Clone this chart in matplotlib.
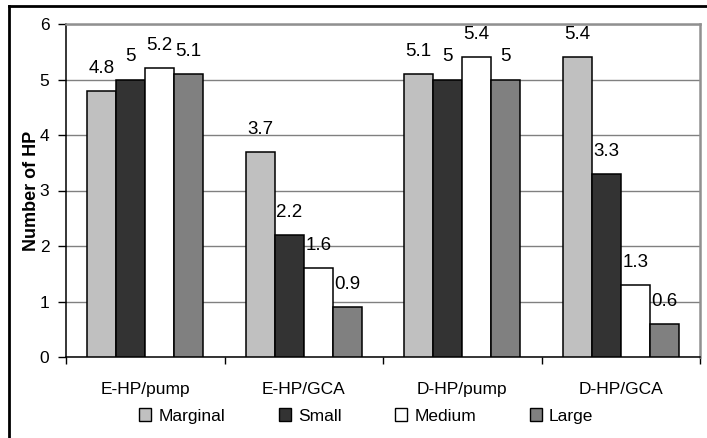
import matplotlib
matplotlib.use("Agg")
import matplotlib.pyplot as plt
from matplotlib.lines import Line2D
from matplotlib.patches import Patch
import numpy as np

plt.rcParams['font.family'] = ['Liberation Sans', 'DejaVu Sans']

categories = ["E-HP/pump", "E-HP/GCA", "D-HP/pump", "D-HP/GCA"]
series_names = ["Marginal", "Small", "Medium", "Large"]
marginal = [4.8, 3.7, 5.1, 5.4]
small = [5.0, 2.2, 5.0, 3.3]
medium = [5.2, 1.6, 5.4, 1.3]
large = [5.1, 0.9, 5.0, 0.6]
value_labels = [
    ["4.8", "3.7", "5.1", "5.4"],
    ["5", "2.2", "5", "3.3"],
    ["5.2", "1.6", "5.4", "1.3"],
    ["5.1", "0.9", "5", "0.6"],
]
colors = ["#C0C0C0", "#333333", "#FFFFFF", "#808080"]

W, H = 707, 438
fig = plt.figure(figsize=(W / 100, H / 100), dpi=100)

left, right, top, bottom = 66, 700, 24, 357
ax = fig.add_axes([left / W, 1 - bottom / H, (right - left) / W, (bottom - top) / H])

series = [marginal, small, medium, large]
bar_w = 0.183
centers = np.arange(len(categories)) + 0.5
for k, (vals, col, labs) in enumerate(zip(series, colors, value_labels)):
    xs = centers + (k - 1.5) * bar_w
    ax.bar(xs, vals, width=bar_w, color=col, edgecolor="black", linewidth=1.1, zorder=3)
    for x, v, t in zip(xs, vals, labs):
        ax.annotate(t, (x, v), xytext=(0, 13), textcoords="offset points",
                    ha="center", va="baseline", fontsize=13.5, zorder=4)

ax.set_xlim(0, 4)
ax.set_ylim(0, 6)
ax.set_yticks(range(0, 7))
ax.yaxis.grid(True, color="#808080", linewidth=1.0, zorder=0)
ax.set_axisbelow(True)

ax.set_xticks(range(0, 5))
ax.set_xticklabels([])
ax.set_xticks(centers, minor=True)
ax.set_xticklabels(categories, minor=True)
ax.tick_params(axis="x", which="major", direction="out", length=5, width=1, color="black")
ax.tick_params(axis="x", which="minor", length=0, pad=18, labelsize=12.5)
ax.tick_params(axis="y", direction="out", length=6, width=1, labelsize=12.5, pad=6)

for s in ["left", "bottom"]:
    ax.spines[s].set_color("black")
    ax.spines[s].set_linewidth(1.1)
for s in ["right", "top"]:
    ax.spines[s].set_color("#909090")
    ax.spines[s].set_linewidth(1.8)

ax.set_ylabel("Number of HP", fontsize=13, fontweight="bold", labelpad=0)

handles = [Patch(facecolor=c, edgecolor="black", linewidth=1.0) for c in colors]
fig.legend(handles, series_names, loc="center", bbox_to_anchor=(0.518, 1 - 416 / H),
           ncol=4, frameon=False, fontsize=12.5, handlelength=0.7, handleheight=0.7,
           handletextpad=0.4, columnspacing=3.1)

# outer frame (left and top edges)
fig.add_artist(Line2D([9 / W, 9 / W], [0, 1 - 6 / H], color="black", linewidth=2.0,
                      transform=fig.transFigure))
fig.add_artist(Line2D([9 / W, 1], [1 - 6 / H, 1 - 6 / H], color="black", linewidth=2.0,
                      transform=fig.transFigure))

fig.savefig("out.png", dpi=100)
